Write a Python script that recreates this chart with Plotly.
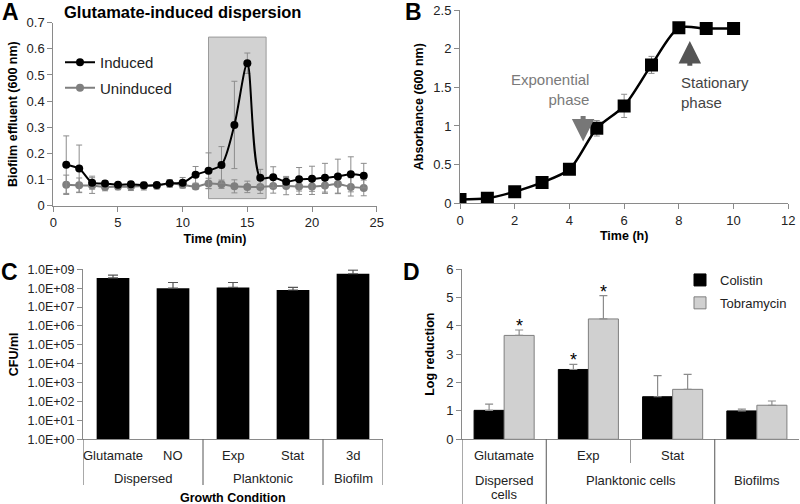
import plotly.graph_objects as go

W, H = 800, 504
def px(x): return x / W
def py(y): return 1 - y / H

FONT = "Liberation Sans, Arial, sans-serif"
AXC = "#8a8a8a"

# ---------------- Panel A data ----------------
a_time = list(range(1, 25))
a_induced = [0.157, 0.142, 0.088, 0.085, 0.080, 0.082, 0.078, 0.079, 0.086, 0.088, 0.118, 0.134,
             0.156, 0.309, 0.545, 0.107, 0.109, 0.092, 0.101, 0.103, 0.107, 0.112, 0.120, 0.115]
a_induced_err = [0.11, 0.09, 0.025, 0.01, 0.008, 0.01, 0.01, 0.01, 0.012, 0.02, 0.032, 0.068,
                 0.07, 0.167, 0.039, 0.032, 0.04, 0.02, 0.045, 0.048, 0.055, 0.066, 0.067, 0.047]
a_unind = [0.080, 0.078, 0.077, 0.072, 0.073, 0.073, 0.075, 0.076, 0.085, 0.080, 0.073, 0.085,
           0.082, 0.074, 0.072, 0.072, 0.075, 0.075, 0.073, 0.073, 0.077, 0.083, 0.072, 0.068]
a_unind_err = [0.037, 0.028, 0.03, 0.015, 0.012, 0.015, 0.015, 0.012, 0.015, 0.012, 0.01, 0.02,
               0.016, 0.025, 0.022, 0.025, 0.027, 0.033, 0.03, 0.03, 0.03, 0.035, 0.035, 0.03]
a_window = [12.0, 16.45]
a_window_y = [0.027, 0.645]

# ---------------- Panel B data ----------------
b_time = [0, 1, 2, 3, 4, 5, 6, 7, 8, 9, 10]
b_abs = [0.05, 0.065, 0.15, 0.27, 0.44, 0.97, 1.26, 1.79, 2.27, 2.26, 2.26]
b_err = [0.01, 0.01, 0.02, 0.02, 0.02, 0.1, 0.15, 0.11, 0.02, 0.02, 0.02]

# ---------------- Panel C data ----------------
c_cats = ["Glutamate", "NO", "Exp", "Stat", "3d"]
c_groups = [("Dispersed", 0.5), ("Planktonic", 2.5), ("Biofilm", 4)]
c_cfu = [3.5e8, 1.0e8, 1.1e8, 8.0e7, 5.8e8]
c_cfu_top = [4.9e8, 2.0e8, 2.0e8, 1.1e8, 9.0e8]
c_ticks = [10 ** k for k in range(10)]
c_ticktext = ["1.0E+%02d" % k for k in range(10)]

# ---------------- Panel D data ----------------
d_cats = ["Glutamate", "Exp", "Stat", "Biofilms"]
d_row1 = ["Glutamate", "Exp", "Stat", ""]
d_colistin = [1.02, 2.46, 1.50, 1.00]
d_colistin_err = [0.22, 0.18, 0.74, 0.06]
d_tobra = [3.66, 4.24, 1.76, 1.20]
d_tobra_err = [0.19, 0.82, 0.53, 0.15]
d_sig_colistin = [False, True, False, False]
d_sig_tobra = [True, True, False, False]

fig = go.Figure()

# ---- A traces ----
fig.add_trace(go.Scatter(x=a_time, y=a_unind, name="Uninduced", mode="lines+markers",
                         line=dict(color="#7f7f7f", width=2, shape="spline", smoothing=0.8),
                         marker=dict(color="#7f7f7f", size=8),
                         error_y=dict(type="data", array=a_unind_err, color="#8c8c8c", thickness=1, width=3),
                         xaxis="x", yaxis="y", legend="legend", legendgroup="u", legendrank=2))
fig.add_trace(go.Scatter(x=a_time, y=a_induced, name="Induced", mode="lines+markers",
                         line=dict(color="black", width=2, shape="spline", smoothing=0.8),
                         marker=dict(color="black", size=8),
                         error_y=dict(type="data", array=a_induced_err, color="#8c8c8c", thickness=1, width=3),
                         xaxis="x", yaxis="y", legend="legend", legendgroup="i", legendrank=1))

# ---- B trace ----
fig.add_trace(go.Scatter(x=b_time, y=b_abs, mode="lines+markers", showlegend=False,
                         line=dict(color="black", width=2.5, shape="spline", smoothing=0.8),
                         marker=dict(color="black", size=13, symbol="square"),
                         error_y=dict(type="data", array=b_err, color="#8c8c8c", thickness=1, width=3),
                         xaxis="x2", yaxis="y2"))

# ---- C trace ----
fig.add_trace(go.Bar(x=c_cats, y=c_cfu, width=0.545, showlegend=False,
                     marker=dict(color="black", line=dict(width=0)),
                     error_y=dict(type="data", symmetric=False,
                                  array=[t - v for t, v in zip(c_cfu_top, c_cfu)],
                                  arrayminus=[0] * len(c_cfu), color="#555555", thickness=1.2, width=5),
                     xaxis="x3", yaxis="y3"))

# ---- D traces ----
fig.add_trace(go.Bar(x=d_cats, y=d_colistin, name="Colistin",
                     marker=dict(color="black", line=dict(color="black", width=1)),
                     error_y=dict(type="data", symmetric=False, array=d_colistin_err,
                                  arrayminus=[0] * 4, color="#8c8c8c", thickness=1.2, width=4),
                     xaxis="x4", yaxis="y4", legend="legend2", legendgroup="c"))
fig.add_trace(go.Bar(x=d_cats, y=d_tobra, name="Tobramycin",
                     marker=dict(color="#d0d0d0", line=dict(color="#7f7f7f", width=1)),
                     error_y=dict(type="data", symmetric=False, array=d_tobra_err,
                                  arrayminus=[0] * 4, color="#8c8c8c", thickness=1.2, width=4),
                     xaxis="x4", yaxis="y4", legend="legend2", legendgroup="t"))

tickfont = dict(family=FONT, size=13, color="#222")
titlefont = dict(family=FONT, size=12.5, color="black", weight="bold")

def axis_common():
    return dict(showline=True, linecolor=AXC, linewidth=1, showgrid=False, zeroline=False,
                ticks="outside", ticklen=5, tickcolor=AXC, tickfont=tickfont)

# Domains (pixel positions of plot areas)
A_X = (53.3, 376.7); A_Y = (22.7, 205.7)
B_X = (460.0, 788.3); B_Y = (10.0, 203.3)
C_X = (83.0, 383.0); C_Y = (269.3, 439.3)
D_X = (462.0, 799.0); D_Y = (269.0, 439.3)

def dom_x(d): return [px(d[0]), px(d[1])]
def dom_y(d): return [py(d[1]), py(d[0])]

layout = dict(
    width=W, height=H, margin=dict(l=0, r=0, t=0, b=0, autoexpand=False),
    paper_bgcolor="white", plot_bgcolor="white",
    font=dict(family=FONT, color="#222"),
    barmode="group", bargap=0.287, bargroupgap=0,
    xaxis=dict(domain=dom_x(A_X), range=[0, 25], tick0=0, dtick=5, anchor="y",
               title=dict(text="Time (min)", font=titlefont, standoff=4), **axis_common()),
    yaxis=dict(domain=dom_y(A_Y), range=[0, 0.7], dtick=0.1, anchor="x",
               title=dict(text="Biofilm effluent (600 nm)", font=titlefont, standoff=6), **axis_common()),
    xaxis2=dict(domain=dom_x(B_X), range=[0, 12], dtick=2, anchor="y2",
                title=dict(text="Time (h)", font=titlefont, standoff=4), **axis_common()),
    yaxis2=dict(domain=dom_y(B_Y), range=[0, 2.5], dtick=0.5, anchor="x2",
                title=dict(text="Absorbance (600 nm)", font=titlefont, standoff=6), **axis_common()),
    xaxis3=dict(domain=dom_x(C_X), range=[-0.5, 4.5], type="category", anchor="y3",
                showline=True, linecolor=AXC, showgrid=False, showticklabels=False, ticks=""),
    yaxis3=dict(domain=dom_y(C_Y), type="log", range=[0, 9], anchor="x3",
                tickvals=c_ticks, ticktext=c_ticktext,
                title=dict(text="CFU/ml", font=titlefont, standoff=6),
                **{**axis_common(), "tickfont": dict(family=FONT, size=12.5, color="#222")}),
    xaxis4=dict(domain=dom_x(D_X), range=[-0.5, 3.5], type="category", anchor="y4",
                showline=True, linecolor=AXC, showgrid=False, showticklabels=False, ticks=""),
    yaxis4=dict(domain=dom_y(D_Y), range=[0, 6], dtick=1, anchor="x4",
                title=dict(text="Log reduction", font=titlefont, standoff=8), **axis_common()),
    legend=dict(x=px(60), y=py(46), xanchor="left", yanchor="top", bgcolor="rgba(0,0,0,0)",
                font=dict(family=FONT, size=15, color="#222"), traceorder="grouped",
                tracegroupgap=3, itemwidth=30),
    legend2=dict(x=px(680), y=py(265), xanchor="left", yanchor="top", bgcolor="rgba(0,0,0,0)",
                 font=dict(family=FONT, size=13, color="#222"), traceorder="grouped",
                 tracegroupgap=3, itemwidth=30),
)
fig.update_layout(**layout)

shapes = []
# Shaded dispersion window in A
shapes.append(dict(type="rect", xref="x", yref="y", x0=a_window[0], x1=a_window[1],
                   y0=a_window_y[0], y1=a_window_y[1], fillcolor="#d2d2d2",
                   line=dict(color="#9a9a9a", width=1), layer="below"))
# C category dividers
for xv in [-0.5, 1.5, 3.5, 4.5]:
    shapes.append(dict(type="line", xref="x3", yref="paper", x0=xv, x1=xv,
                       y0=py(C_Y[1]), y1=py(485), line=dict(color="#555", width=1)))
# D category dividers
for xv in [-0.5, 0.5, 2.5]:
    shapes.append(dict(type="line", xref="x4", yref="paper", x0=xv, x1=xv,
                       y0=py(D_Y[1]), y1=py(504), line=dict(color="#555", width=1)))
shapes.append(dict(type="line", xref="x4", yref="paper", x0=1.5, x1=1.5,
                   y0=py(D_Y[1]), y1=py(463), line=dict(color="#999", width=1)))
fig.update_layout(shapes=shapes)

ann = []
def txt(text, x, y, size=13, bold=False, color="#222", xref="paper", yref="paper",
        xanchor="center", yanchor="middle", **kw):
    f = dict(family=FONT, size=size, color=color)
    if bold:
        f["weight"] = "bold"
    d = dict(text=text, x=x, y=y, xref=xref, yref=yref, showarrow=False, font=f,
             xanchor=xanchor, yanchor=yanchor)
    d.update(kw)
    ann.append(d)

# Panel letters & title
txt("A", px(0), py(-3), size=23, bold=True, color="black", xanchor="left", yanchor="top")
txt("B", px(403), py(-3), size=23, bold=True, color="black", xanchor="left", yanchor="top")
txt("C", px(-1), py(257), size=23, bold=True, color="black", xanchor="left", yanchor="top")
txt("D", px(401), py(257), size=23, bold=True, color="black", xanchor="left", yanchor="top")
txt("Glutamate-induced dispersion", px(62), py(12), size=16.5, bold=True, color="black", xanchor="left")

# B annotations
ann.append(dict(x=4.5, y=0.80, ax=4.5, ay=1.15, xref="x2", yref="y2", axref="x2", ayref="y2",
                showarrow=True, arrowhead=2, arrowsize=0.9, arrowwidth=5, arrowcolor="#777", text=""))
ann.append(dict(x=8.4, y=2.10, ax=8.4, ay=1.76, xref="x2", yref="y2", axref="x2", ayref="y2",
                showarrow=True, arrowhead=2, arrowsize=0.9, arrowwidth=5, arrowcolor="#555", text=""))
txt("Exponential<br>phase", 4.8, 1.47, size=15, color="#7a7a7a", xref="x2", yref="y2",
    xanchor="right", align="right")
txt("Stationary<br>phase", 8.02, 1.43, size=15, color="#444", xref="x2", yref="y2",
    xanchor="left", align="left")

# C category labels
for i, c in enumerate(c_cats):
    txt(c, i, py(455), xref="x3", size=13)
for g, xc in c_groups:
    txt(g, xc, py(478.5), xref="x3", size=13)
txt("Growth Condition", (C_X[0] + C_X[1]) / 2 / W, py(497.5), size=12.5, bold=True, color="black")

# D category labels
for i, c in enumerate(d_row1):
    if c:
        txt(c, i, py(455.5), xref="x4", size=13)
txt("Dispersed", 0, py(480), xref="x4", size=13)
txt("cells", 0, py(494.5), xref="x4", size=13)
txt("Planktonic cells", 1.5, py(480), xref="x4", size=13)
txt("Biofilms", 3, py(480), xref="x4", size=13)

# D significance asterisks
half = (1 - 0.287) / 4
for i in range(4):
    if d_sig_colistin[i]:
        txt("*", i - half, d_colistin[i] + d_colistin_err[i], size=18, color="black",
            xref="x4", yref="y4", yanchor="bottom", yshift=-8)
    if d_sig_tobra[i]:
        txt("*", i + half, d_tobra[i] + d_tobra_err[i], size=18, color="black",
            xref="x4", yref="y4", yanchor="bottom", yshift=-8)

fig.update_layout(annotations=ann)
fig.write_html("out.html", config={"displayModeBar": False},
               post_script="document.body.style.margin='0';document.body.style.padding='0';"
                           "document.body.style.overflow='hidden';")
